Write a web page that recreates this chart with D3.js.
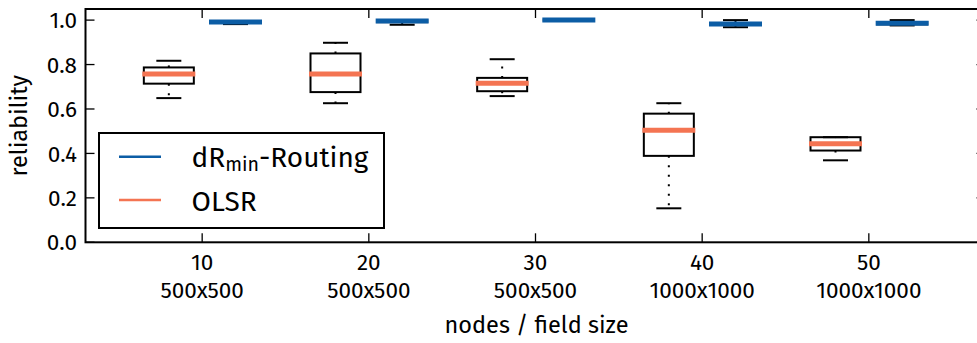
<!DOCTYPE html>
<html>
<head>
<meta charset="utf-8">
<script src="https://cdn.jsdelivr.net/npm/d3@7"></script>
<style>
  html, body { margin: 0; padding: 0; background: #fff; }
  svg { display: block; }
  text { font-family: "Fira Sans", "Open Sans", "Noto Sans", sans-serif; fill: #000; }
</style>
</head>
<body>
<svg id="chart" width="977" height="343"></svg>
<script>
// Node counts and field sizes per scenario
const nodeCounts = ["10", "20", "30", "40", "50"];
const fieldSizes = ["500x500", "500x500", "500x500", "1000x1000", "1000x1000"];
const yTicks = [0.0, 0.2, 0.4, 0.6, 0.8, 1.0];

// dRmin-Routing reliability: whisker low, Q1, median, Q3, whisker high
const drLow    = [0.982, 0.979, 0.998, 0.968, 0.976];
const drQ1     = [0.987, 0.991, 0.999, 0.978, 0.981];
const drMedian = [0.991, 0.996, 1.000, 0.982, 0.986];
const drQ3     = [0.994, 0.999, 1.000, 0.987, 0.991];
const drHigh   = [0.995, 1.000, 1.000, 1.000, 1.000];

// OLSR reliability
const olsrLow    = [0.649, 0.626, 0.658, 0.153, 0.369];
const olsrQ1     = [0.714, 0.676, 0.680, 0.389, 0.413];
const olsrMedian = [0.757, 0.757, 0.716, 0.504, 0.443];
const olsrQ3     = [0.787, 0.850, 0.740, 0.579, 0.473];
const olsrHigh   = [0.817, 0.898, 0.824, 0.626, 0.473];

const BLUE = "#0c5da5";
const ORANGE = "#f47452";

const series = [
  { name: "OLSR", color: ORANGE, offset: -0.2,
    low: olsrLow, q1: olsrQ1, median: olsrMedian, q3: olsrQ3, high: olsrHigh },
  { name: "dRmin", color: BLUE, offset: 0.2,
    low: drLow, q1: drQ1, median: drMedian, q3: drQ3, high: drHigh }
];

const svg = d3.select("#chart");
const plotL = 85.5, plotR = 985.5, plotT = 9, plotB = 242.3;

const x = d3.scaleLinear().domain([-0.7, nodeCounts.length - 0.3]).range([plotL, plotR]);
const y = d3.scaleLinear().domain([0, 1.05]).range([plotB, plotT]);

const boxW = 0.3, capW = 0.15;
const tickLen = 9;

// Boxes
series.forEach(s => {
  const g = svg.append("g");
  nodeCounts.forEach((c, i) => {
    const cx = x(i + s.offset);
    const bx0 = x(i + s.offset - boxW / 2), bx1 = x(i + s.offset + boxW / 2);
    const cx0 = x(i + s.offset - capW / 2), cx1 = x(i + s.offset + capW / 2);
    // dotted whiskers
    g.append("line").attr("x1", cx).attr("x2", cx)
      .attr("y1", y(s.q1[i])).attr("y2", y(s.low[i]))
      .attr("stroke", "#000").attr("stroke-width", 2).attr("stroke-dasharray", "2,7.5");
    g.append("line").attr("x1", cx).attr("x2", cx)
      .attr("y1", y(s.q3[i])).attr("y2", y(s.high[i]))
      .attr("stroke", "#000").attr("stroke-width", 2).attr("stroke-dasharray", "2,7.5");
    // caps
    [s.low[i], s.high[i]].forEach(v => {
      g.append("line").attr("x1", cx0).attr("x2", cx1)
        .attr("y1", y(v)).attr("y2", y(v))
        .attr("stroke", "#000").attr("stroke-width", 2);
    });
    // box
    g.append("rect").attr("x", bx0).attr("y", y(s.q3[i]))
      .attr("width", bx1 - bx0).attr("height", Math.max(0.01, y(s.q1[i]) - y(s.q3[i])))
      .attr("fill", "none").attr("stroke", "#000").attr("stroke-width", 2);
    // median
    g.append("line").attr("x1", bx0 - 1.5).attr("x2", bx1 + 1.5)
      .attr("y1", y(s.median[i])).attr("y2", y(s.median[i]))
      .attr("stroke", s.color).attr("stroke-width", 5);
  });
});

// Frame
svg.append("rect").attr("x", plotL).attr("y", plotT)
  .attr("width", plotR - plotL).attr("height", plotB - plotT)
  .attr("fill", "none").attr("stroke", "#000").attr("stroke-width", 2);

// Inward ticks on all four sides
const ticksG = svg.append("g").attr("stroke", "#000").attr("stroke-width", 1.3);
yTicks.forEach(v => {
  ticksG.append("line").attr("x1", plotL).attr("x2", plotL + tickLen).attr("y1", y(v)).attr("y2", y(v));
  ticksG.append("line").attr("x1", plotR).attr("x2", plotR - tickLen).attr("y1", y(v)).attr("y2", y(v));
});
nodeCounts.forEach((c, i) => {
  ticksG.append("line").attr("x1", x(i)).attr("x2", x(i)).attr("y1", plotB).attr("y2", plotB - tickLen);
  ticksG.append("line").attr("x1", x(i)).attr("x2", x(i)).attr("y1", plotT).attr("y2", plotT + tickLen);
});

// Y tick labels
svg.append("g").selectAll("text").data(yTicks).join("text")
  .attr("x", plotL - 8.5).attr("y", d => y(d)).attr("dy", "0.36em")
  .attr("text-anchor", "end").attr("font-size", 22.5)
  .text(d => d.toFixed(1));

// X tick labels (two lines)
const xl = svg.append("g").attr("font-size", 22.5).attr("text-anchor", "middle");
nodeCounts.forEach((c, i) => {
  xl.append("text").attr("x", x(i)).attr("y", 270).text(c);
  xl.append("text").attr("x", x(i)).attr("y", 298.3).text(fieldSizes[i]);
});

// Axis titles
svg.append("text").attr("x", (plotL + plotR) / 2 + 1).attr("y", 333.3)
  .attr("text-anchor", "middle").attr("font-size", 23.5).text("nodes / field size");
svg.append("text").attr("transform", `translate(27,${(plotT + plotB) / 2}) rotate(-90)`)
  .attr("text-anchor", "middle").attr("font-size", 23.5).text("reliability");

// Legend
const lg = svg.append("g");
lg.append("rect").attr("x", 99).attr("y", 133).attr("width", 285).attr("height", 95)
  .attr("fill", "#fff").attr("stroke", "#000").attr("stroke-width", 2);
const legendItems = [
  { color: BLUE, y: 156.7, base: 166.5 },
  { color: ORANGE, y: 200, base: 210.5 }
];
legendItems.forEach(it => {
  lg.append("line").attr("x1", 119).attr("x2", 161).attr("y1", it.y).attr("y2", it.y)
    .attr("stroke", it.color).attr("stroke-width", 2.5);
});
const t1 = lg.append("text").attr("x", 191.5).attr("y", legendItems[0].base).attr("font-size", 28);
t1.append("tspan").text("dR");
t1.append("tspan").attr("font-size", 19.6).attr("dy", 4).text("min");
t1.append("tspan").attr("dy", -4).text("-Routing");
lg.append("text").attr("x", 191.5).attr("y", legendItems[1].base).attr("font-size", 28).text("OLSR");
</script>
</body>
</html>
